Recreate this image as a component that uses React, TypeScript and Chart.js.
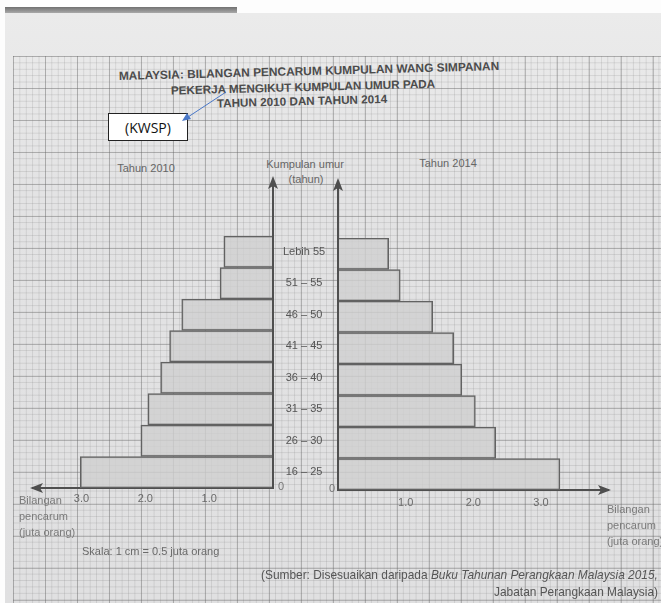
import React, { useEffect, useRef } from 'react';
import { Chart, registerables } from 'chart.js';

Chart.register(...registerables);

// ---- data ----
const ageGroups = ['Lebih 55', '51 – 55', '46 – 50', '41 – 45', '36 – 40', '31 – 35', '26 – 30', '16 – 25'];
const contributors2010 = [0.77, 0.83, 1.43, 1.62, 1.76, 1.96, 2.07, 3.02];
const contributors2014 = [0.75, 0.92, 1.4, 1.71, 1.83, 2.03, 2.33, 3.28];
const titleLines = [
  'MALAYSIA: BILANGAN PENCARUM KUMPULAN WANG SIMPANAN',
  'PEKERJA MENGIKUT KUMPULAN UMUR PADA',
  'TAHUN 2010 DAN TAHUN 2014',
];
const axisTitleLines = ['Bilangan', 'pencarum', '(juta orang)'];

const W = 661;
const H = 603;
const FONT = "'Liberation Sans', Arial, sans-serif";
const AXIS = '#4f4f4f';
const TEXT = '#5e5e5e';
const BAR_FILL = 'rgba(208,208,208,0.8)';
const BAR_EDGE = '#626262';

function arrowHead(ctx: CanvasRenderingContext2D, x: number, y: number, dir: 'up' | 'left' | 'right') {
  const L = 13;
  const hw = 5;
  ctx.beginPath();
  ctx.moveTo(x, y);
  if (dir === 'up') {
    ctx.lineTo(x - hw, y + L);
    ctx.lineTo(x, y + L - 3);
    ctx.lineTo(x + hw, y + L);
  } else if (dir === 'left') {
    ctx.lineTo(x + L, y - hw);
    ctx.lineTo(x + L - 3, y);
    ctx.lineTo(x + L, y + hw);
  } else {
    ctx.lineTo(x - L, y - hw);
    ctx.lineTo(x - L + 3, y);
    ctx.lineTo(x - L, y + hw);
  }
  ctx.closePath();
  ctx.fill();
}

function decorPlugin(side: 'left' | 'right') {
  return {
    id: 'decor' + side,
    afterDraw(chart: any) {
      const ctx: CanvasRenderingContext2D = chart.ctx;
      const xs = chart.scales.x;
      const a = chart.chartArea;
      const zero = xs.getPixelForValue(0);
      const end = xs.getPixelForValue(xs.max);
      ctx.save();
      ctx.strokeStyle = AXIS;
      ctx.fillStyle = AXIS;
      ctx.lineWidth = 2;
      ctx.beginPath();
      ctx.moveTo(zero, a.bottom);
      ctx.lineTo(zero, a.top - 50);
      ctx.stroke();
      arrowHead(ctx, zero, a.top - 60, 'up');
      arrowHead(ctx, side === 'left' ? end - 3 : end + 3, a.bottom, side === 'left' ? 'left' : 'right');
      ctx.fillStyle = '#777';
      ctx.font = '11px ' + FONT;
      ctx.textBaseline = 'middle';
      ctx.textAlign = 'center';
      ctx.fillText('0', side === 'left' ? zero + 8 : zero - 6, a.bottom - 1);
      ctx.restore();
    },
  };
}

function tickLabel(v: any) {
  const n = Number(v);
  return n === 0 ? '' : n.toFixed(1);
}

function makeLeft(canvas: HTMLCanvasElement) {
  return new Chart(canvas, {
    type: 'bar',
    data: {
      labels: ageGroups,
      datasets: [
        {
          label: 'Tahun 2010',
          data: contributors2010,
          backgroundColor: BAR_FILL,
          borderColor: BAR_EDGE,
          borderWidth: 1.5,
          barPercentage: 1,
          categoryPercentage: 1,
        },
      ],
    },
    options: {
      indexAxis: 'y',
      responsive: false,
      animation: false,
      layout: { padding: { left: 33, right: 0, top: 236, bottom: 0 } },
      plugins: { legend: { display: false }, tooltip: { enabled: false }, title: { display: false } },
      scales: {
        x: {
          type: 'linear',
          reverse: true,
          min: 0,
          max: 3.76,
          position: 'bottom',
          grid: { display: false, drawTicks: false },
          border: { display: true, color: AXIS, width: 2 },
          ticks: {
            stepSize: 1,
            includeBounds: false,
            padding: 4,
            color: '#6a6a6a',
            font: { family: FONT, size: 11 },
            callback: tickLabel,
            maxRotation: 0,
          },
          afterFit: (s: any) => {
            s.height = H - 488;
          },
        },
        y: {
          type: 'category',
          position: 'right',
          grid: { display: false, drawTicks: false },
          border: { display: false },
          ticks: {
            crossAlign: 'center',
            padding: 10,
            color: '#555',
            font: { family: FONT, size: 11 },
          },
          afterFit: (s: any) => {
            s.width = W - 273;
          },
        },
      },
    },
    plugins: [decorPlugin('left')],
  } as any);
}

function makeRight(canvas: HTMLCanvasElement) {
  return new Chart(canvas, {
    type: 'bar',
    data: {
      labels: ageGroups,
      datasets: [
        {
          label: 'Tahun 2014',
          data: contributors2014,
          backgroundColor: BAR_FILL,
          borderColor: BAR_EDGE,
          borderWidth: 1.5,
          barPercentage: 1,
          categoryPercentage: 1,
        },
      ],
    },
    options: {
      indexAxis: 'y',
      responsive: false,
      animation: false,
      layout: { padding: { left: 338, right: W - 608, top: 238, bottom: 0 } },
      plugins: { legend: { display: false }, tooltip: { enabled: false }, title: { display: false } },
      scales: {
        x: {
          type: 'linear',
          min: 0,
          max: 3.99,
          position: 'bottom',
          grid: { display: false, drawTicks: false },
          border: { display: true, color: AXIS, width: 2 },
          ticks: {
            stepSize: 1,
            includeBounds: false,
            padding: 6,
            color: '#6a6a6a',
            font: { family: FONT, size: 11 },
            callback: tickLabel,
            maxRotation: 0,
          },
          afterFit: (s: any) => {
            s.height = H - 490;
          },
        },
        y: {
          type: 'category',
          display: false,
        },
      },
    },
    plugins: [decorPlugin('right')],
  } as any);
}

type TProps = {
  x: number;
  y: number;
  children: React.ReactNode;
  size?: number;
  color?: string;
  align?: 'left' | 'center' | 'right';
  bold?: boolean;
  rotate?: number;
};

function Txt({ x, y, children, size = 11, color = TEXT, align = 'left', bold = false, rotate = 0 }: TProps) {
  const dx = align === 'center' ? '-50%' : align === 'right' ? '-100%' : '0';
  return (
    <div
      style={{
        position: 'absolute',
        left: x,
        top: y,
        transform: `translate(${dx}, -50%) rotate(${rotate}deg)`,
        whiteSpace: 'nowrap',
        fontSize: size,
        lineHeight: 1,
        color,
        fontWeight: bold ? 700 : 400,
        fontFamily: FONT,
      }}
    >
      {children}
    </div>
  );
}

export default function App() {
  const leftRef = useRef<HTMLCanvasElement>(null);
  const rightRef = useRef<HTMLCanvasElement>(null);

  useEffect(() => {
    const l = makeLeft(leftRef.current!);
    const r = makeRight(rightRef.current!);
    return () => {
      l.destroy();
      r.destroy();
    };
  }, []);

  const minor = 'rgba(120,120,120,0.2)';
  const major = 'rgba(100,100,100,0.36)';

  return (
    <div
      style={{
        position: 'absolute',
        left: 0,
        top: 0,
        width: W,
        height: H,
        overflow: 'hidden',
        background: '#fdfdfd',
        fontFamily: FONT,
      }}
    >
      {/* paper */}
      <div
        style={{
          position: 'absolute',
          left: 5,
          top: 13,
          right: 0,
          bottom: 0,
          background: 'linear-gradient(to bottom, #ebebeb, #e3e3e4 30%, #e0e0e1)',
        }}
      />
      <div
        style={{
          position: 'absolute',
          left: 5,
          top: 7,
          width: 232,
          height: 6,
          background: 'linear-gradient(to bottom, #707070, #a9a9a9)',
        }}
      />
      {/* graph-paper grid */}
      <div
        style={{
          position: 'absolute',
          left: 13,
          top: 56,
          right: 0,
          bottom: 0,
          backgroundImage: `linear-gradient(to right, ${major} 1px, transparent 1px), linear-gradient(to bottom, ${major} 1px, transparent 1px), linear-gradient(to right, ${minor} 1px, transparent 1px), linear-gradient(to bottom, ${minor} 1px, transparent 1px)`,
          backgroundSize: '32px 32px, 32px 32px, 6.4px 6.4px, 6.4px 6.4px',
        }}
      />

      {/* title */}
      <Txt x={309} y={72} align="center" bold size={11.9} color="#4c4c4c" rotate={-1.5}>
        {titleLines[0]}
      </Txt>
      <Txt x={303} y={87} align="center" bold size={11.7} color="#4c4c4c" rotate={-1.5}>
        {titleLines[1]}
      </Txt>
      <Txt x={302} y={101} align="center" bold size={11.7} color="#4c4c4c" rotate={-1.5}>
        {titleLines[2]}
      </Txt>

      {/* KWSP box + arrow */}
      <div
        style={{
          position: 'absolute',
          left: 108,
          top: 113,
          width: 80,
          height: 28,
          background: '#ffffff',
          border: '1px solid #222',
          boxSizing: 'border-box',
          display: 'flex',
          alignItems: 'center',
          justifyContent: 'center',
          fontSize: 14,
          color: '#111',
          fontFamily: "'Open Sans', " + FONT,
        }}
      >
        (KWSP)
      </div>
      <svg style={{ position: 'absolute', left: 0, top: 0 }} width={W} height={H}>
        <line x1={226} y1={92} x2={188} y2={117} stroke="#4a78c8" strokeWidth={1} />
        <polygon points="182,121 187,113 191,119" fill="#4a78c8" />
      </svg>

      <Txt x={146} y={168} align="center" color="#666">Tahun 2010</Txt>
      <Txt x={448} y={163} align="center" color="#666">Tahun 2014</Txt>
      <Txt x={305} y={164} align="center" color="#666">Kumpulan umur</Txt>
      <Txt x={306} y={179} align="center" color="#666">(tahun)</Txt>

      {/* charts */}
      <canvas ref={leftRef} width={W} height={H} style={{ position: 'absolute', left: 0, top: 0 }} />
      <canvas ref={rightRef} width={W} height={H} style={{ position: 'absolute', left: 0, top: 0 }} />

      {/* axis titles */}
      {axisTitleLines.map((t, i) => (
        <Txt key={'l' + i} x={19} y={500 + i * 16} color="#7a7a7a">
          {t}
        </Txt>
      ))}
      {axisTitleLines.map((t, i) => (
        <Txt key={'r' + i} x={607} y={509 + i * 16} color="#7a7a7a">
          {t}
        </Txt>
      ))}

      <Txt x={82} y={551} color="#6a6a6a">Skala: 1 cm = 0.5 juta orang</Txt>
      <Txt x={261} y={576} color="#555" size={11.9}>
        (Sumber: Disesuaikan daripada <i>Buku Tahunan Perangkaan Malaysia 2015,</i>
      </Txt>
      <Txt x={658} y={593} align="right" color="#555" size={11.9}>
        Jabatan Perangkaan Malaysia)
      </Txt>
    </div>
  );
}
